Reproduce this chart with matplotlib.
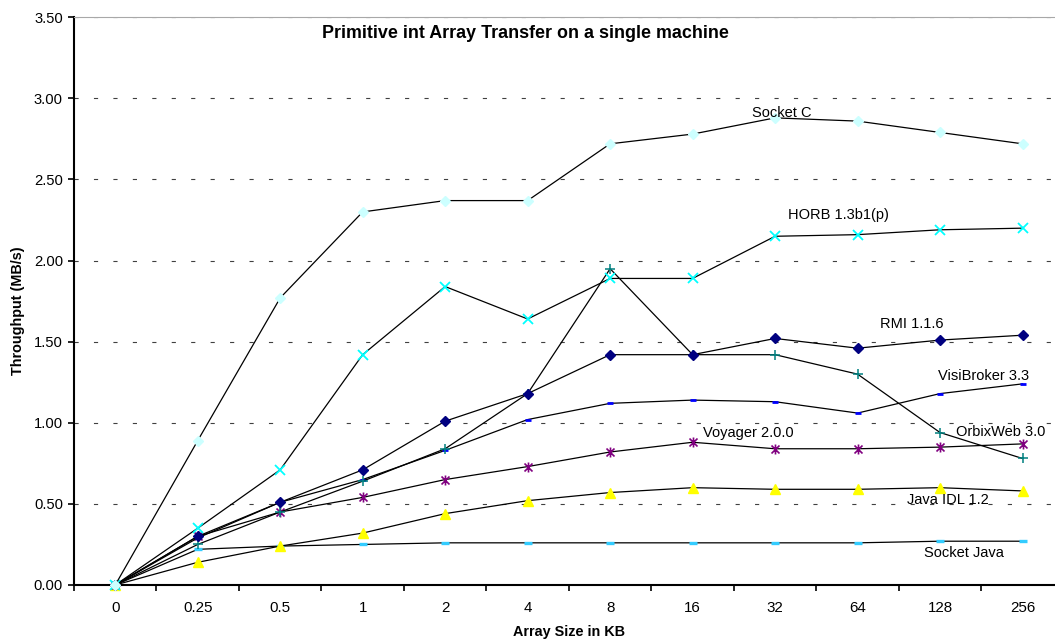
import matplotlib
matplotlib.use("Agg")
import matplotlib.pyplot as plt
from matplotlib.path import Path
import numpy as np

plt.rcParams['font.family'] = ['Liberation Sans', 'DejaVu Sans']
plt.rcParams['lines.scale_dashes'] = False

sizes = ["0", "0.25", "0.5", "1", "2", "4", "8", "16", "32", "64", "128", "256"]

socket_c = [0, 0.89, 1.77, 2.30, 2.37, 2.37, 2.72, 2.78, 2.88, 2.86, 2.79, 2.72]
horb = [0, 0.35, 0.71, 1.42, 1.84, 1.64, 1.89, 1.89, 2.15, 2.16, 2.19, 2.20]
rmi = [0, 0.30, 0.51, 0.71, 1.01, 1.18, 1.42, 1.42, 1.52, 1.46, 1.51, 1.54]
orbixweb = [0, 0.25, 0.45, 0.64, 0.84, 1.18, 1.95, 1.42, 1.42, 1.30, 0.94, 0.78]
visibroker = [0, 0.29, 0.51, 0.65, 0.83, 1.02, 1.12, 1.14, 1.13, 1.06, 1.18, 1.24]
voyager = [0, 0.30, 0.45, 0.54, 0.65, 0.73, 0.82, 0.88, 0.84, 0.84, 0.85, 0.87]
java_idl = [0, 0.14, 0.24, 0.32, 0.44, 0.52, 0.57, 0.60, 0.59, 0.59, 0.60, 0.58]
socket_java = [0, 0.22, 0.24, 0.25, 0.26, 0.26, 0.26, 0.26, 0.26, 0.26, 0.27, 0.27]

series_names = ["Socket C", "HORB 1.3b1(p)", "RMI 1.1.6", "OrbixWeb 3.0",
                "VisiBroker 3.3", "Voyager 2.0.0", "Java IDL 1.2", "Socket Java"]

# asterisk marker: an "x" crossed by a vertical stroke
asterisk = Path([(-1, -1), (1, 1), (-1, 1), (1, -1), (0, -1.25), (0, 1.25)],
                [Path.MOVETO, Path.LINETO, Path.MOVETO, Path.LINETO,
                 Path.MOVETO, Path.LINETO])

W, H = 1055, 641
fig = plt.figure(figsize=(W / 100, H / 100), dpi=100)
ax = fig.add_axes([74 / W, 56 / H, 989.75 / W, 567.7 / H])

x = np.arange(len(sizes))
lw = 0.9

styles = [
    (socket_c, dict(marker="D", ms=5.4, mfc="#CCFFFF", mec="#CCFFFF")),
    (horb, dict(marker="x", ms=6.8, mec="#00FFFF", mew=1.3)),
    (rmi, dict(marker="D", ms=5.4, mfc="#000080", mec="#000080")),
    (orbixweb, dict(marker="+", ms=7.5, mec="#008080", mew=1.1)),
    (visibroker, dict(marker="_", ms=4.0, mec="#0000FF", mew=2.0)),
    (voyager, dict(marker=asterisk, ms=7.2, mec="#800080", mew=1.2)),
    (java_idl, dict(marker="^", ms=7.4, mfc="#FFFF00", mec="#FFFF00")),
    (socket_java, dict(marker="_", ms=6.0, mec="#33CCFF", mew=2.4)),
]
for i, (vals, st) in enumerate(styles[::-1]):
    ax.plot(x, vals, color="black", lw=lw, zorder=3 + i, clip_on=False, **st)

ax.set_xlim(-0.5, len(sizes) - 0.5)
ax.set_ylim(0, 3.5)

ax.set_yticks(np.arange(0, 3.51, 0.5))
ax.set_yticklabels([f"{v:.2f}" for v in np.arange(0, 3.51, 0.5)])
ax.set_xticks(x)
ax.set_xticklabels(sizes)
ax.set_xticks(np.arange(-0.5, len(sizes)), minor=True)

ax.tick_params(axis="x", which="major", length=0, pad=11.5, labelsize=10.9)
ax.tick_params(axis="x", which="minor", length=4, width=1.2, direction="out")
ax.tick_params(axis="y", which="major", length=4, width=1.2, direction="out",
               pad=4, labelsize=10.6)

ax.yaxis.grid(True, color="#404040", lw=0.8, dashes=(3, 11))
ax.set_axisbelow(True)

for side in ("left", "bottom"):
    ax.spines[side].set_linewidth(1.5)
    ax.spines[side].set_color("black")
ax.spines["top"].set_color("#A8A8A8")
ax.spines["top"].set_linewidth(0.8)
ax.spines["right"].set_visible(False)

ax.set_xlabel("Array Size in KB", fontsize=10.4, fontweight="bold", va="center")
ax.xaxis.set_label_coords(0.5, -0.0823)
ax.set_ylabel("Throughput (MB/s)", fontsize=10.4, fontweight="bold", va="center")
ax.yaxis.set_label_coords(-0.0566, 0.4827)

fig.text(322 / W, 1 - 34 / H, "Primitive int Array Transfer on a single machine",
         fontsize=12.9, fontweight="bold", ha="left", va="center")

label_pos = [(751.7, 113), (787.7, 215), (880, 323.8), (956, 432.5),
             (938.3, 376), (703.3, 432.5), (906.7, 500), (924, 553.3)]
for name, (px, py) in zip(series_names, label_pos):
    fig.text(px / W, 1 - py / H, name, fontsize=10.5, ha="left", va="center",
             zorder=20)

fig.savefig("out.png", dpi=100)
